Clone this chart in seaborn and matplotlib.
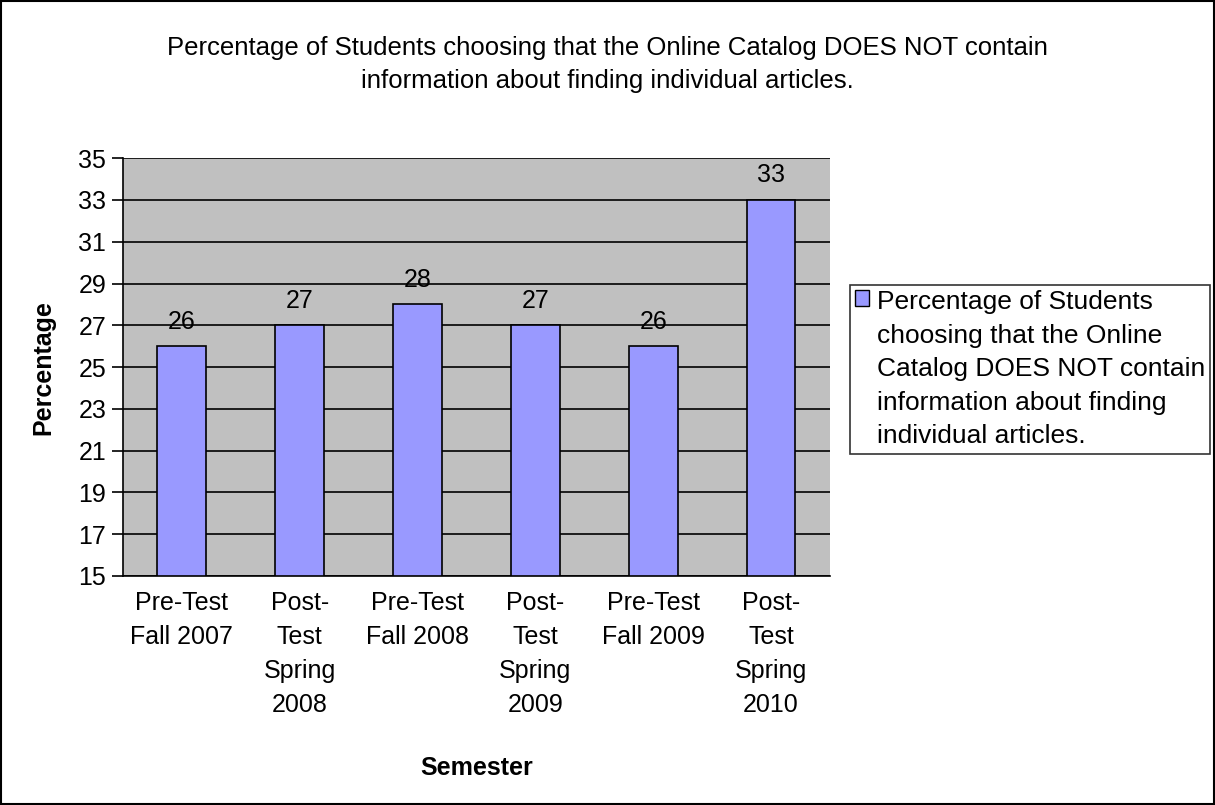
import matplotlib
matplotlib.use("Agg")
import matplotlib.pyplot as plt
import seaborn as sns
import pandas as pd
from matplotlib.patches import Rectangle

# ── Data ────────────────────────────────────────────────────────────────────
semesters = [
    "Pre-Test\nFall 2007",
    "Post-\nTest\nSpring\n2008",
    "Pre-Test\nFall 2008",
    "Post-\nTest\nSpring\n2009",
    "Pre-Test\nFall 2009",
    "Post-\nTest\nSpring\n2010",
]
percentages = [26, 27, 28, 27, 26, 33]
y_ticks = list(range(15, 36, 2))

series_name = ("Percentage of Students\nchoosing that the Online\n"
               "Catalog DOES NOT contain\ninformation about finding\n"
               "individual articles.")
title = ("Percentage of Students choosing that the Online Catalog DOES NOT contain\n"
         "information about finding individual articles.")

df = pd.DataFrame({"Semester": semesters, "Percentage": percentages})

# ── Style ────────────────────────────────────────────────────────────────────
sns.set_style("white")
plt.rcParams["font.family"] = ["Liberation Sans", "DejaVu Sans"]
for key in ["text.color", "axes.labelcolor", "xtick.color", "ytick.color"]:
    plt.rcParams[key] = "black"

BAR_COLOR = "#9999FF"
BG_COLOR = "#C0C0C0"
FS = 18

fig = plt.figure(figsize=(12.15, 8.05), dpi=100)
ax = fig.add_axes([0.1012, 0.2845, 0.5819, 0.519])
ax.set_facecolor(BG_COLOR)

sns.barplot(data=df, x="Semester", y="Percentage", color=BAR_COLOR,
            width=0.415, edgecolor="black", linewidth=1.2, ax=ax,
            saturation=1, zorder=3)

# bars start at the bottom of the axis (Excel style)
for p in ax.patches:
    top = p.get_y() + p.get_height()
    p.set_y(15)
    p.set_height(top - 15)

ax.set_ylim(15, 35)
ax.set_xlim(-0.5, len(semesters) - 0.5)
ax.set_yticks(y_ticks)
ax.yaxis.grid(True, color="black", linewidth=1.2, zorder=0)
ax.set_axisbelow(True)

for i, v in enumerate(percentages):
    ax.text(i, v + 0.6, str(v), ha="center", va="bottom", fontsize=FS)

# x ticks at category boundaries, labels centred under bars
ax.set_xticks([i + 0.5 for i in range(-1, len(semesters))], minor=True)
ax.set_xticks(range(len(semesters)))
ax.set_xticklabels(semesters, fontsize=FS, linespacing=1.52)
ax.tick_params(axis="x", which="major", length=0, pad=11)
ax.tick_params(axis="x", which="minor", length=8, width=1.2, direction="out",
               color="black")
ax.tick_params(axis="y", length=8, width=1.2, direction="out", labelsize=FS,
               color="black", left=True, pad=4)

for side in ["top", "right"]:
    ax.spines[side].set_visible(False)
for side in ["left", "bottom"]:
    ax.spines[side].set_color("black")
    ax.spines[side].set_linewidth(1.2)

ax.set_xlabel("Semester", fontsize=FS, fontweight="bold")
ax.set_ylabel("Percentage", fontsize=FS, fontweight="bold")
ax.xaxis.set_label_coords(0.5, -0.43)
ax.yaxis.set_label_coords(-0.096, 0.5)

fig.text(0.5, 0.955, title, ha="center", va="top", fontsize=18.5,
         linespacing=1.45)

# legend box
leg_handle = Rectangle((0, 0), 1, 1, facecolor=BAR_COLOR, edgecolor="black")
leg = fig.legend([leg_handle], [series_name], loc="upper left",
                 bbox_to_anchor=(0.6996, 0.646), fontsize=19, frameon=True,
                 fancybox=False, edgecolor="black", handlelength=0.52,
                 handleheight=0.52, handletextpad=0.3, borderpad=0.2,
                 borderaxespad=0, labelspacing=0.3)
leg.get_frame().set_linewidth(1.2)
for t in leg.get_texts():
    t.set_linespacing(1.5)
# handle next to the first line of text, as in the original
for item in leg._legend_handle_box.get_children()[0].get_children():
    item.align = "top"

# outer border of the chart
fig.patches.append(Rectangle((0.001, 0.001), 0.998, 0.998, transform=fig.transFigure,
                             fill=False, edgecolor="black", linewidth=1.5))

fig.savefig("out.png", dpi=100)
